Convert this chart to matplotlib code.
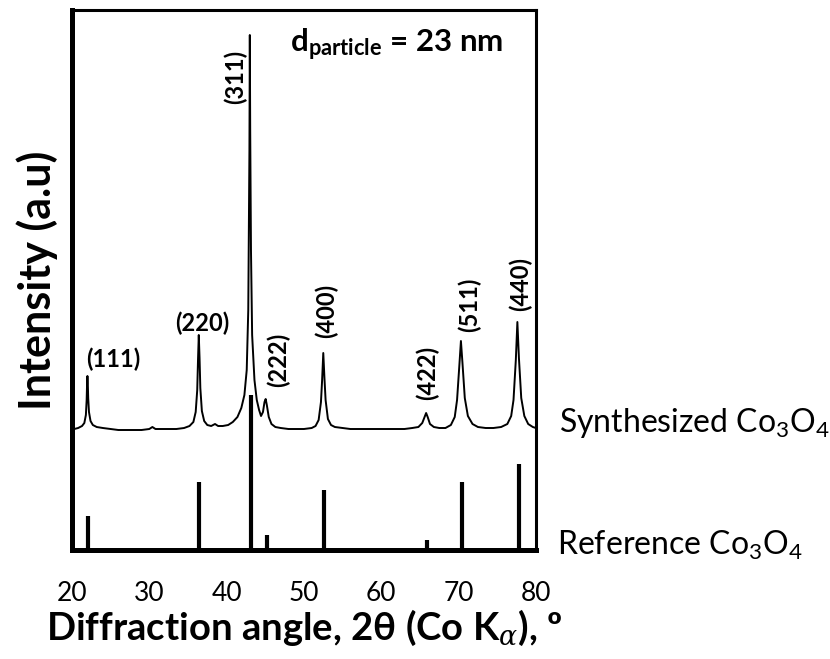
import matplotlib.pyplot as plt

plt.rcParams['font.family'] = ['Lato', 'DejaVu Sans']
plt.rcParams['mathtext.fontset'] = 'custom'
plt.rcParams['mathtext.rm'] = 'Lato'
plt.rcParams['mathtext.bf'] = 'Lato:bold'
plt.rcParams['mathtext.it'] = 'DejaVu Serif:italic'

# synthesized pattern (2theta, height above bottom axis)
two_theta = [20.3, 20.8, 21.3, 21.6, 21.8, 21.9, 21.95, 22.0, 22.05, 22.1, 22.2, 22.4, 22.7,
             23.2, 24.0, 25.0, 26.0, 27.0, 28.0, 29.0, 30.0, 30.4, 30.8, 31.5, 32.5, 33.5,
             34.5, 35.2, 35.7, 36.0, 36.2, 36.3, 36.4, 36.5, 36.6, 36.8, 37.1, 37.5, 38.0,
             38.5, 38.9, 39.5, 40.2, 40.8, 41.4, 41.9, 42.3, 42.6, 42.8, 42.95, 43.0, 43.05,
             43.15, 43.3, 43.6, 43.9, 44.2, 44.45, 44.7, 44.9, 45.05, 45.2, 45.45, 45.8, 46.3,
             47.0, 48.0, 49.0, 50.0, 51.0, 51.5, 51.9, 52.2, 52.35, 52.5, 52.65, 52.8, 53.1,
             53.5, 54.0, 55.0, 56.0, 57.0, 58.0, 59.0, 60.0, 61.0, 62.0, 63.0, 64.0, 64.8,
             65.3, 65.6, 65.8, 66.0, 66.3, 66.8, 67.5, 68.3, 69.0, 69.5, 69.8, 70.1, 70.3,
             70.5, 70.8, 71.2, 71.8, 72.5, 73.5, 74.5, 75.5, 76.3, 76.8, 77.1, 77.4, 77.6,
             77.8, 78.1, 78.5, 79.0, 79.6, 80.0]
intensity = [121, 122, 124, 127, 135, 150, 165, 174, 166, 152, 138, 129, 125,
             123, 122, 121, 120, 120, 120, 120, 121, 123, 121, 121, 121, 121,
             122, 124, 128, 138, 160, 190, 215, 192, 162, 139, 129, 125, 124,
             126, 124, 124, 125, 128, 133, 142, 155, 180, 240, 400, 515, 420,
             300, 215, 170, 150, 140, 134, 138, 148, 151, 145, 133, 126, 123,
             122, 121, 121, 121, 122, 124, 130, 148, 170, 197, 172, 150, 131,
             125, 123, 122, 121, 121, 121, 121, 121, 121, 121, 121, 122, 123,
             127, 133, 137, 133, 126, 123, 122, 122, 125, 133, 150, 185, 209,
             187, 152, 134, 126, 123, 122, 122, 123, 126, 134, 150, 190, 228,
             192, 152, 134, 126, 123, 122]

# reference pattern sticks
ref_pos = [22.1, 36.4, 43.1, 45.2, 52.6, 65.9, 70.4, 77.8]
ref_height = [34, 68, 155, 15, 60, 10, 68, 86]

# peak labels: text, x, y, rotation
hkl = ['(111)', '(220)', '(311)', '(222)', '(400)', '(422)', '(511)', '(440)']
hkl_x = [25.3, 36.9, 41.2, 46.7, 52.9, 66.0, 71.4, 78.0]
hkl_y = [191, 227, 473, 190, 239, 177, 245, 266]
hkl_rot = [0, 0, 90, 90, 90, 90, 90, 90]

fig = plt.figure(figsize=(8.3, 6.59), dpi=100)
ax = fig.add_axes([0.0867, 0.1654, 0.5590, 0.8194])

ax.plot(two_theta, intensity, color='black', lw=1.4)
ax.vlines(ref_pos, 0, ref_height, color='black', lw=3.0)

for t, x, y, r in zip(hkl, hkl_x, hkl_y, hkl_rot):
    ax.text(x, y, t, rotation=r, ha='center', va='center', fontsize=17, fontweight='bold')

ax.text(0.47, 0.935, r'$\mathbf{d_{particle}}$ = 23 nm', transform=ax.transAxes,
        fontsize=22.5, fontweight='bold', va='center', ha='left')

ax.set_xlim(20, 80)
ax.set_ylim(0, 540)
ax.set_yticks([])
ax.set_xticks([20, 30, 40, 50, 60, 70, 80])
ax.tick_params(axis='x', length=0, pad=22, labelsize=19)

for s in ['left', 'bottom']:
    ax.spines[s].set_linewidth(3.6)
for s in ['top', 'right']:
    ax.spines[s].set_linewidth(2.2)

ax.set_xlabel(r'Diffraction angle, 2θ (Co K$_{\alpha}$), º', fontsize=27.5, fontweight='bold', labelpad=2)
ax.set_ylabel('Intensity (a.u)', fontsize=31, fontweight='bold', labelpad=10)

fig.text(0.673, 0.358, r'Synthesized Co$_3$O$_4$', fontsize=23, va='center', ha='left')
fig.text(0.671, 0.173, r'Reference Co$_3$O$_4$', fontsize=23, va='center', ha='left')

fig.savefig('out.png', dpi=100)
